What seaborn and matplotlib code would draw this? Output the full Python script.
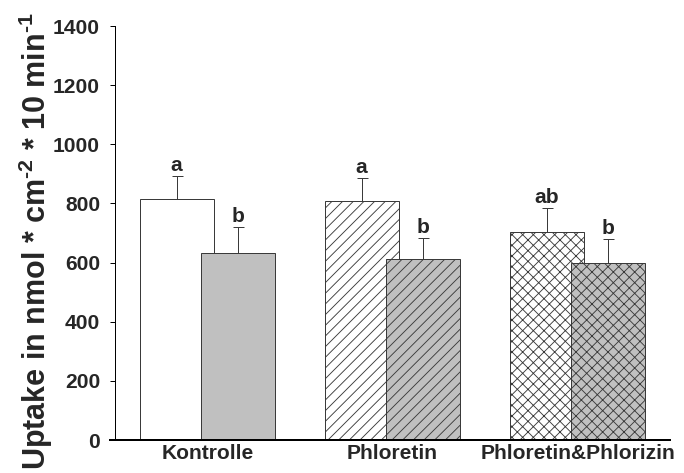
import matplotlib
matplotlib.use("Agg")
import matplotlib.pyplot as plt
import seaborn as sns
import pandas as pd
import numpy as np

# ---- data ----
groups = ["Kontrolle", "Phloretin", "Phloretin&Phlorizin"]
series_names = ["Serie 1", "Serie 2"]
uptake_1 = [816, 809, 702]
uptake_2 = [631, 612, 600]
sem_1 = [78, 78, 82]
sem_2 = [88, 71, 81]
letters_1 = ["a", "a", "ab"]
letters_2 = ["b", "b", "b"]
y_ticks = [0, 200, 400, 600, 800, 1000, 1200, 1400]

# ---- style ----
DPI = 64
sns.set_style("ticks")
plt.rcParams["font.family"] = ["Liberation Sans", "DejaVu Sans"]
plt.rcParams["mathtext.fontset"] = "custom"
plt.rcParams["mathtext.rm"] = "Liberation Sans:bold"
plt.rcParams["mathtext.it"] = "Liberation Sans:bold"
plt.rcParams["mathtext.bf"] = "Liberation Sans:bold"
plt.rcParams["hatch.linewidth"] = 1.0

px = 72.0 / DPI  # points per pixel

fig = plt.figure(figsize=(684 / DPI, 473 / DPI), dpi=DPI)
ax = fig.add_axes([115 / 684, 33 / 473, 555 / 684, 414 / 473])

df = pd.DataFrame({
    "Gruppe": groups * 2,
    "Serie": [series_names[0]] * len(groups) + [series_names[1]] * len(groups),
    "Uptake": uptake_1 + uptake_2,
})

edge = "#3a3a3a"
sns.barplot(data=df, x="Gruppe", y="Uptake", hue="Serie",
            palette=["white", "#c0c0c0"], saturation=1, width=0.8,
            errorbar=None, edgecolor=edge, linewidth=1.0 * px,
            legend=False, ax=ax)

hatches = ["", "//", "xx"]
shifts = [0.033, -0.033]
errs = [sem_1, sem_2]
letters = [letters_1, letters_2]
bar_containers = list(ax.containers)
for i, cont in enumerate(bar_containers):
    xs, ys = [], []
    for j, bar in enumerate(cont.patches):
        bar.set_x(bar.get_x() + shifts[i])
        bar.set_hatch(hatches[j])
        xs.append(bar.get_x() + bar.get_width() / 2)
        ys.append(bar.get_height())
    ax.errorbar(xs, ys, yerr=[np.zeros(len(xs)), errs[i]], fmt="none",
                ecolor=edge, elinewidth=1.0 * px, capsize=5.5 * px,
                capthick=1.0 * px, zorder=1)
    for x, y, e, t in zip(xs, ys, errs[i], letters[i]):
        ax.annotate(t, (x, y + e), xytext=(0, 5 * px), textcoords="offset points",
                    ha="center", va="baseline", fontsize=21 * px,
                    fontweight="bold")

ax.set_xlim(-0.5, 2.5)
ax.set_ylim(0, 1400)
ax.set_yticks(y_ticks)
ax.set_xlabel("")
ax.set_ylabel(r"Uptake in nmol * cm$^{\text{-}2}$ * 10 min$^{\text{-}1}$",
              fontsize=30.5 * px, fontweight="bold")
ax.yaxis.set_label_coords(-0.109, 0.48)

sns.despine(ax=ax)
ax.spines["left"].set_linewidth(1.0 * px)
ax.spines["left"].set_color("black")
ax.spines["bottom"].set_linewidth(2.0 * px)
ax.spines["bottom"].set_color("black")
ax.spines["bottom"].set_bounds(-0.527, 2.5)

ax.tick_params(axis="x", length=0, pad=4 * px, labelsize=21 * px)
ax.tick_params(axis="y", length=5 * px, width=1.0 * px, pad=10 * px,
               labelsize=21 * px, direction="out", color="black")
for lab in ax.get_xticklabels() + ax.get_yticklabels():
    lab.set_fontweight("bold")

fig.savefig("out.png", dpi=DPI)
